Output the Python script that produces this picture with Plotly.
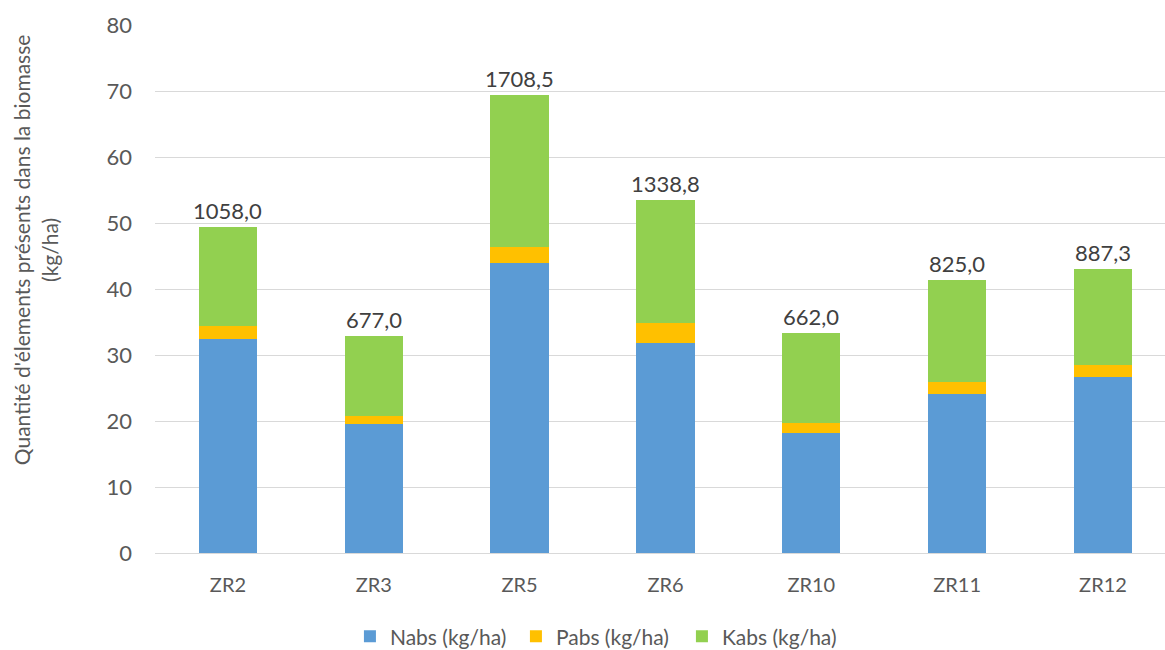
import plotly.graph_objects as go

# Sites and nutrient uptake (kg/ha) per element
sites = ["ZR2", "ZR3", "ZR5", "ZR6", "ZR10", "ZR11", "ZR12"]
nabs = [32.4, 19.6, 43.9, 31.8, 18.25, 24.1, 26.6]
pabs = [1.95, 1.2, 2.4, 3.05, 1.4, 1.85, 1.85]
kabs = [15.0, 12.1, 23.05, 18.65, 13.7, 15.35, 14.55]
# Biomass shown above each stack
biomass_labels = ["1058,0", "677,0", "1708,5", "1338,8", "662,0", "825,0", "887,3"]

FONT = "Lato"
TICK_COLOR = "#595959"

fig = go.Figure()
series = [
    ("Nabs (kg/ha)", nabs, "#5B9BD5"),
    ("Pabs (kg/ha)", pabs, "#FFC000"),
    ("Kabs (kg/ha)", kabs, "#92D050"),
]
for name, vals, color in series:
    fig.add_trace(go.Bar(
        x=sites, y=vals, name=name,
        marker=dict(color=color, line=dict(width=0)),
        hoverinfo="skip",
    ))

totals = [n + p + k for n, p, k in zip(nabs, pabs, kabs)]
for site, tot, lab in zip(sites, totals, biomass_labels):
    fig.add_annotation(
        x=site, y=tot, text=lab, showarrow=False,
        yanchor="bottom", yshift=1,
        font=dict(family=FONT, size=22, color="#404040"),
    )

# Two-line rotated axis title
fig.add_annotation(
    xref="paper", yref="paper",
    x=-0.118, y=0.575,
    text="Quantité d'élements présents dans la biomasse<br>(kg/ha)",
    textangle=-90, showarrow=False,
    font=dict(family=FONT, size=21, color=TICK_COLOR),
    xanchor="center", yanchor="middle",
)

fig.update_layout(
    width=1165, height=650,
    barmode="stack", bargap=0.6,
    plot_bgcolor="white", paper_bgcolor="white",
    margin=dict(l=155, r=0, t=25, b=97, autoexpand=False),
    font=dict(family=FONT, color=TICK_COLOR),
    showlegend=True,
    legend=dict(
        orientation="h", x=0.193, y=0.052,
        xref="paper", yref="container",
        xanchor="left", yanchor="top",
        font=dict(family=FONT, size=21, color=TICK_COLOR),
        traceorder="normal",
        entrywidth=121, entrywidthmode="pixels",
    ),
    xaxis=dict(
        range=[-0.5, 6.425], automargin=False,
        showgrid=False, zeroline=False, showline=False,
        ticks="", ticklabelstandoff=18,
        tickfont=dict(family=FONT, size=20, color=TICK_COLOR),
        fixedrange=True,
    ),
    yaxis=dict(
        range=[0, 80], dtick=10, automargin=False,
        showgrid=True, gridcolor="#D9D9D9", gridwidth=1.3,
        zeroline=True, zerolinecolor="#D9D9D9", zerolinewidth=1.3,
        showline=False, ticks="",
        ticklabelstandoff=22,
        tickfont=dict(family=FONT, size=22, color=TICK_COLOR),
        fixedrange=True,
    ),
)

fig.write_html("out.html")
